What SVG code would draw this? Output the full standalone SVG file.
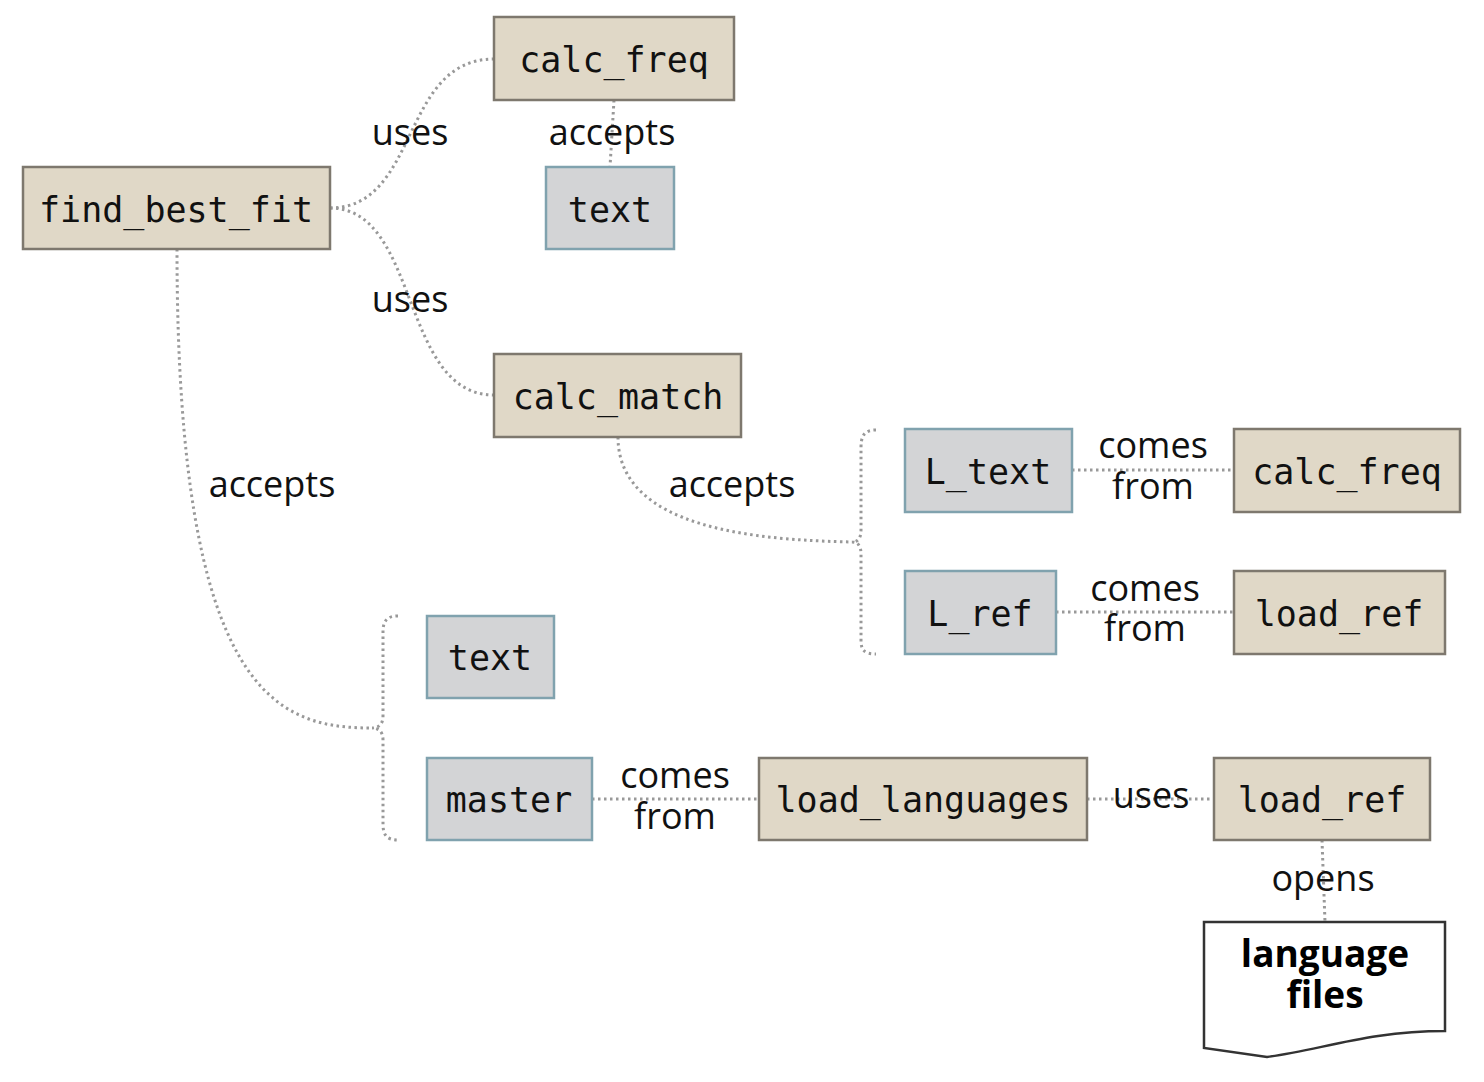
<svg xmlns="http://www.w3.org/2000/svg" width="1484" height="1082" viewBox="0 0 1484 1082">
<style>
.fn rect{fill:#e0d8c7;stroke:#7e786e;stroke-width:2.5}
.var rect{fill:#d3d4d6;stroke:#80a2ae;stroke-width:2.5}
.nt{font-family:"DejaVu Sans Mono","Liberation Mono",monospace;font-size:35px;fill:#111;text-anchor:middle}
.lb{font-family:"Open Sans","Noto Sans",sans-serif;font-size:36px;fill:#111;text-anchor:middle}
.doc path{fill:#fff;stroke:#333;stroke-width:2.5}
.dt{font-family:"Open Sans","Noto Sans",sans-serif;font-size:37px;font-weight:bold;fill:#000;text-anchor:middle}
#connectors path{fill:none;stroke:#999;stroke-width:3;stroke-dasharray:2.5 3.5}
</style>
<rect width="1484" height="1082" fill="#fff"/>
<g id="connectors">
<path d="M330,208 C420,208 400,59 494,59"/>
<path d="M330,208 C420,208 400,395 494,395"/>
<path d="M614,100 L610,167"/>
<path d="M177,249 C177,700 280,728 372,728"/>
<path d="M398,616 C386,616 383,622 383,632 L383,716 C383,724 379,728 372,728 C379,728 383,732 383,740 L383,824 C383,834 386,840 398,840"/>
<path d="M618,437 C618,530 760,540 852,542"/>
<path d="M876,430 C864,430 861,436 861,448 L861,530 C861,538 858,542 852,542 C858,542 861,546 861,554 L861,640 C861,650 864,654 876,654"/>
<path d="M1072,470 L1234,470"/>
<path d="M1056,612 L1234,612"/>
<path d="M592,799 L759,799"/>
<path d="M1087,799 L1214,799"/>
<path d="M1322,840 L1325,922"/>
</g>
<g id="labels">
<text class="lb" x="410" y="145">uses</text>
<text class="lb" x="612" y="145">accepts</text>
<text class="lb" x="410" y="312">uses</text>
<text class="lb" x="272" y="497">accepts</text>
<text class="lb" x="732" y="497">accepts</text>
<text class="lb"><tspan x="1153" y="458">comes</tspan><tspan x="1153" y="499">from</tspan></text>
<text class="lb"><tspan x="1145" y="601">comes</tspan><tspan x="1145" y="641">from</tspan></text>
<text class="lb"><tspan x="675" y="788">comes</tspan><tspan x="675" y="829">from</tspan></text>
<text class="lb" x="1151" y="808">uses</text>
<text class="lb" x="1323" y="891">opens</text>
</g>
<g id="find_best_fit" class="fn"><rect x="23" y="167" width="307" height="82"/><text class="nt" x="176" y="222">find_best_fit</text></g>
<g id="calc_freq_1" class="fn"><rect x="494" y="17" width="240" height="83"/><text class="nt" x="614" y="72">calc_freq</text></g>
<g id="text_1" class="var"><rect x="546" y="167" width="128" height="82"/><text class="nt" x="610" y="222">text</text></g>
<g id="calc_match" class="fn"><rect x="494" y="354" width="247" height="83"/><text class="nt" x="618" y="409">calc_match</text></g>
<g id="L_text" class="var"><rect x="905" y="429" width="167" height="83"/><text class="nt" x="988" y="484">L_text</text></g>
<g id="calc_freq_2" class="fn"><rect x="1234" y="429" width="226" height="83"/><text class="nt" x="1347" y="484">calc_freq</text></g>
<g id="L_ref" class="var"><rect x="905" y="571" width="151" height="83"/><text class="nt" x="980" y="626">L_ref</text></g>
<g id="load_ref_1" class="fn"><rect x="1234" y="571" width="211" height="83"/><text class="nt" x="1339" y="626">load_ref</text></g>
<g id="text_2" class="var"><rect x="427" y="616" width="127" height="82"/><text class="nt" x="490" y="670">text</text></g>
<g id="master" class="var"><rect x="427" y="758" width="165" height="82"/><text class="nt" x="509" y="812">master</text></g>
<g id="load_languages" class="fn"><rect x="759" y="758" width="328" height="82"/><text class="nt" x="923" y="812">load_languages</text></g>
<g id="load_ref_2" class="fn"><rect x="1214" y="758" width="216" height="82"/><text class="nt" x="1322" y="812">load_ref</text></g>
<g id="language_files" class="doc"><path d="M1204,922 L1445,922 L1445,1031 C1370,1031 1320,1050 1267,1057 L1204,1048 Z"/><text class="dt"><tspan x="1325" y="967">language</tspan><tspan x="1325" y="1008">files</tspan></text></g>
</svg>
